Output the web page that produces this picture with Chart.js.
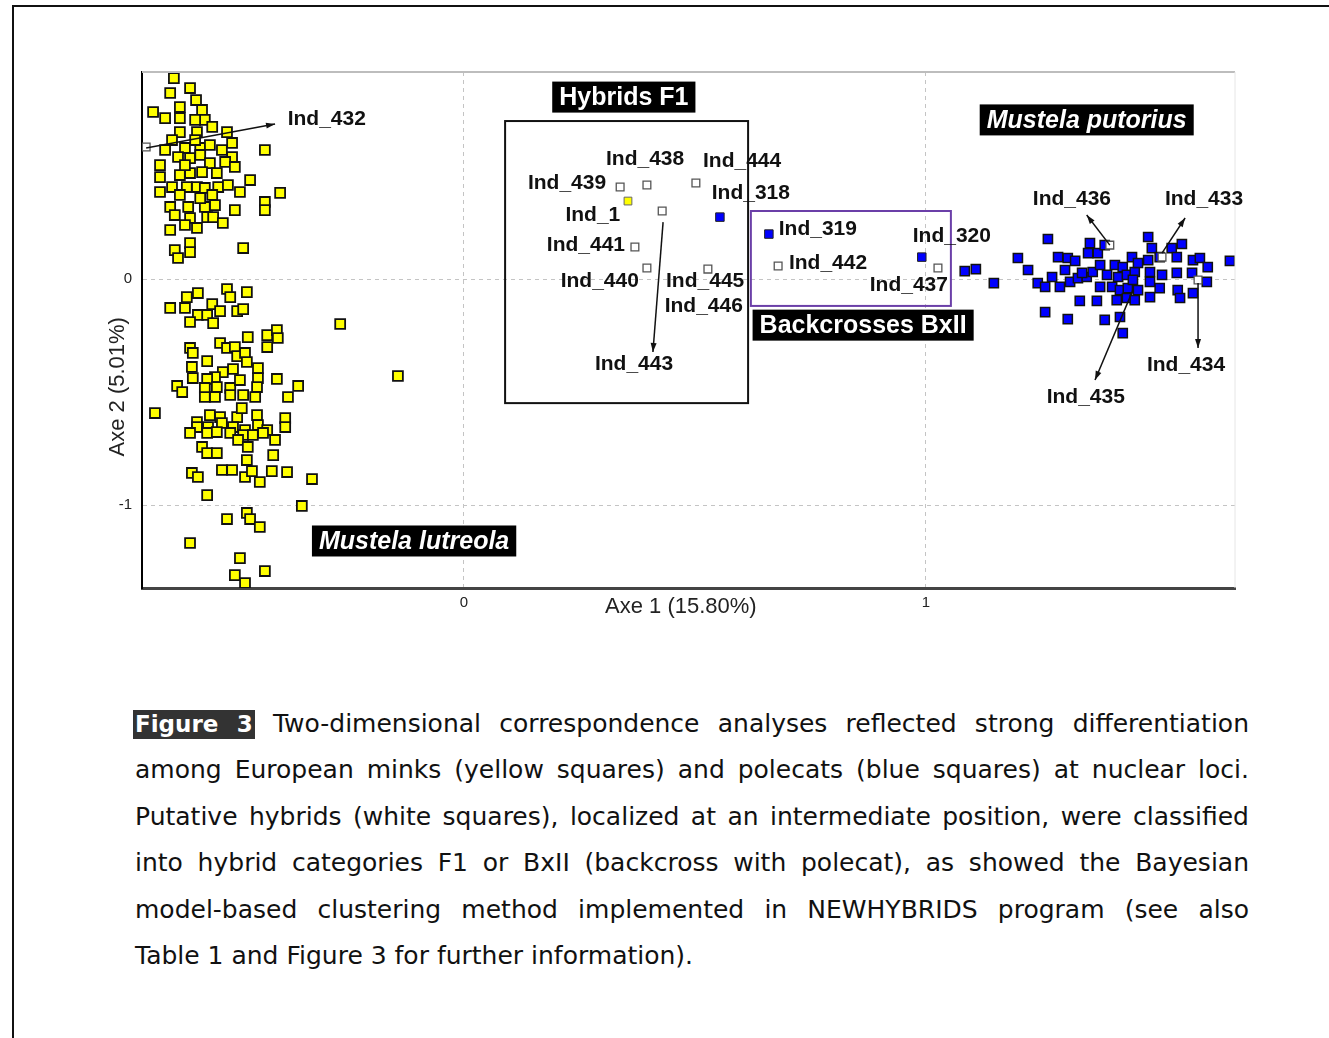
<!DOCTYPE html>
<html>
<head>
<meta charset="utf-8">
<script src="https://cdn.jsdelivr.net/npm/chart.js@4.4.0/dist/chart.umd.min.js"></script>
<style>
  html, body { margin: 0; padding: 0; background: #fff; }
  body { width: 1329px; height: 1038px; position: relative; overflow: hidden; }
  .frame { position: absolute; left: 12px; top: 5px; right: -10px; bottom: -10px; border-top: 2px solid #111; border-left: 2px solid #111; }
  #afc { position: absolute; left: 0; top: 0; }
  .caption { position: absolute; left: 135px; top: 701px; width: 1114px; font-family: "DejaVu Sans", Verdana, sans-serif; font-size: 25px; line-height: 46.4px; color: #111; }
  .caption div { text-align: justify; text-align-last: justify; white-space: nowrap; }
  .caption div.last { text-align-last: left; }
  .caption .fig { background: #333; color: #fff; font-weight: bold; font-size: 23px; padding: 1px 2px 2px 2px; margin-left: -2px; }
</style>
</head>
<body>
<div class="frame"></div>
<canvas id="afc" width="1329" height="640"></canvas>
<div class="caption">
  <div><span class="fig">Figure 3</span> Two-dimensional correspondence analyses reflected strong differentiation</div>
  <div>among European minks (yellow squares) and polecats (blue squares) at nuclear loci.</div>
  <div>Putative hybrids (white squares), localized at an intermediate position, were classified</div>
  <div>into hybrid categories F1 or BxII (backcross with polecat), as showed the Bayesian</div>
  <div>model-based clustering method implemented in NEWHYBRIDS program (see also</div>
  <div class="last">Table 1 and Figure 3 for further information).</div>
</div>
<script>
// axes
const X_TICKS = [0, 1]
const Y_TICKS = [0, -1]
const X_TITLE = "Axe 1 (15.80%)"
const Y_TITLE = "Axe 2 (5.01%)"

// European mink (Mustela lutreola) - yellow
const minkPoints = [
  [-0.628,0.889],[-0.593,0.845],[-0.636,0.823],[-0.580,0.792],[-0.673,0.739],[-0.647,0.712],
  [-0.615,0.761],[-0.615,0.712],[-0.567,0.748],[-0.561,0.704],[-0.545,0.673],[-0.615,0.650],
  [-0.578,0.650],[-0.513,0.650],[-0.632,0.615],[-0.502,0.602],[-0.431,0.571],[-0.604,0.580],
  [-0.571,0.580],[-0.619,0.540],[-0.593,0.535],[-0.571,0.549],[-0.502,0.540],[-0.658,0.504],
  [-0.550,0.513],[-0.517,0.518],[-0.496,0.496],[-0.658,0.451],[-0.615,0.460],[-0.593,0.469],
  [-0.567,0.473],[-0.535,0.469],[-0.632,0.407],[-0.600,0.407],[-0.578,0.407],[-0.561,0.403],
  [-0.532,0.407],[-0.511,0.416],[-0.658,0.385],[-0.615,0.372],[-0.545,0.372],[-0.485,0.385],
  [-0.398,0.381],[-0.431,0.341],[-0.431,0.305],[-0.636,0.319],[-0.597,0.319],[-0.561,0.319],
  [-0.496,0.305],[-0.626,0.283],[-0.593,0.270],[-0.556,0.274],[-0.543,0.274],[-0.522,0.248],
  [-0.604,0.239],[-0.578,0.226],[-0.593,0.159],[-0.626,0.128],[-0.593,0.119],[-0.619,0.093],
  [-0.478,0.137],[-0.582,0.615],[-0.550,0.593],[-0.604,0.504],[-0.524,0.571],[-0.571,0.358],
  [-0.539,0.327],[-0.582,0.704],[-0.647,0.571],[-0.463,0.438],[-0.636,0.217],
  [-0.576,-0.062],[-0.513,-0.044],[-0.506,-0.080],[-0.470,-0.058],[-0.600,-0.080],[-0.636,-0.128],
  [-0.604,-0.128],[-0.576,-0.159],[-0.545,-0.111],[-0.528,-0.142],[-0.556,-0.159],[-0.491,-0.142],
  [-0.478,-0.133],[-0.593,-0.190],[-0.543,-0.195],[-0.268,-0.199],[-0.468,-0.257],[-0.426,-0.248],
  [-0.405,-0.226],[-0.403,-0.261],[-0.426,-0.301],[-0.593,-0.305],[-0.587,-0.327],[-0.528,-0.283],
  [-0.513,-0.305],[-0.496,-0.301],[-0.491,-0.341],[-0.474,-0.327],[-0.556,-0.363],[-0.589,-0.389],
  [-0.470,-0.367],[-0.446,-0.394],[-0.522,-0.412],[-0.500,-0.398],[-0.587,-0.438],[-0.539,-0.434],
  [-0.446,-0.438],[-0.405,-0.442],[-0.556,-0.442],[-0.143,-0.429],[-0.621,-0.473],[-0.610,-0.500],
  [-0.561,-0.482],[-0.535,-0.478],[-0.506,-0.482],[-0.485,-0.447],[-0.448,-0.478],[-0.359,-0.473],
  [-0.381,-0.522],[-0.561,-0.522],[-0.539,-0.522],[-0.506,-0.513],[-0.478,-0.513],[-0.452,-0.522],
  [-0.669,-0.593],[-0.578,-0.633],[-0.550,-0.602],[-0.528,-0.611],[-0.491,-0.611],[-0.481,-0.571],
  [-0.448,-0.602],[-0.387,-0.615],[-0.387,-0.655],[-0.578,-0.655],[-0.554,-0.655],[-0.524,-0.637],
  [-0.500,-0.655],[-0.474,-0.668],[-0.446,-0.646],[-0.426,-0.668],[-0.593,-0.681],[-0.556,-0.681],
  [-0.535,-0.677],[-0.506,-0.681],[-0.478,-0.690],[-0.457,-0.690],[-0.435,-0.681],[-0.409,-0.712],
  [-0.489,-0.712],[-0.567,-0.743],[-0.556,-0.770],[-0.535,-0.770],[-0.468,-0.743],[-0.470,-0.801],
  [-0.413,-0.779],[-0.589,-0.858],[-0.576,-0.876],[-0.524,-0.845],[-0.502,-0.845],[-0.474,-0.876],
  [-0.459,-0.850],[-0.442,-0.898],[-0.416,-0.850],[-0.383,-0.854],[-0.329,-0.885],[-0.556,-0.956],
  [-0.351,-1.004],[-0.513,-1.062],[-0.470,-1.035],[-0.463,-1.062],[-0.442,-1.097],[-0.593,-1.168],
  [-0.485,-1.235],[-0.431,-1.292],[-0.496,-1.310],[-0.474,-1.345]
]

// polecat (Mustela putorius) - blue
const polecatPoints = [
  [1.264,0.177],[1.199,0.093],[1.221,0.040],[1.286,0.097],[1.307,0.093],[1.323,0.080],
  [1.355,0.159],[1.372,0.115],[1.351,0.115],[1.242,-0.018],[1.258,-0.035],[1.273,0.009],
  [1.290,-0.035],[1.312,-0.013],[1.329,0.004],[1.348,0.009],[1.338,0.027],[1.361,0.031],
  [1.377,-0.035],[1.333,-0.097],[1.370,-0.097],[1.258,-0.146],[1.307,-0.177],[1.387,-0.181],
  [1.420,-0.168],[1.426,-0.239],[1.409,0.062],[1.426,0.053],[1.446,0.097],[1.416,0.009],
  [1.435,0.018],[1.452,0.031],[1.403,-0.035],[1.420,-0.049],[1.437,-0.040],[1.459,-0.049],
  [1.413,-0.093],[1.435,-0.084],[1.452,-0.093],[1.481,0.186],[1.489,0.137],[1.481,0.084],
  [1.506,0.097],[1.532,0.137],[1.554,0.155],[1.543,0.097],[1.485,0.031],[1.511,0.018],
  [1.543,0.027],[1.485,-0.013],[1.506,-0.040],[1.485,-0.080],[1.545,-0.049],[1.550,-0.084],
  [1.578,0.084],[1.593,0.093],[1.610,0.053],[1.576,0.027],[1.608,-0.013],[1.578,-0.062],
  [1.658,0.080],[1.147,-0.018],[1.448,-0.004],[1.392,0.018],[1.459,0.071],[1.084,0.035],
  [1.108,0.044],[1.377,0.062],[1.387,0.150],[1.301,0.040]
]

// hybrids with a polecat-like / mink-like score (Ind_318, Ind_319, Ind_320 / Ind_1)
const hybridBluePoints = [[0.554,0.274],[0.660,0.199],[0.991,0.097]]
const hybridYellowPoints = [[0.355,0.345]]

// putative hybrids - white
const hybridPoints = [
  [-0.688,0.584],[0.338,0.407],[0.396,0.416],[0.502,0.425],[0.429,0.301],[0.370,0.142],
  [0.396,0.049],[0.528,0.044],[0.680,0.058],[1.026,0.049],[1.398,0.150],[1.511,0.097],[1.589,-0.004]
]

// individual labels
const labelNames = ["Ind_432","Ind_438","Ind_444","Ind_439","Ind_318","Ind_1","Ind_441","Ind_440","Ind_445","Ind_446","Ind_443","Ind_319","Ind_442","Ind_320","Ind_437","Ind_436","Ind_433","Ind_434","Ind_435"]
const labelX = [-0.297,0.392,0.602,0.223,0.621,0.279,0.264,0.294,0.522,0.519,0.368,0.766,0.788,1.056,0.963,1.316,1.602,1.563,1.346]
const labelY = [0.708,0.531,0.522,0.425,0.381,0.283,0.150,-0.009,-0.009,-0.119,-0.376,0.221,0.071,0.190,-0.027,0.354,0.354,-0.381,-0.522]

// arrows from point to label [x0, y0, x1, y1]
const arrows = [
  [-0.688,0.580,-0.409,0.686],
  [0.431,0.252,0.409,-0.323],
  [1.398,0.150,1.348,0.283],
  [1.511,0.115,1.561,0.270],
  [1.589,-0.018,1.589,-0.305],
  [1.448,-0.049,1.366,-0.447]
]

// group frames [xmin, ymax, xmax, ymin]
const f1Frame = [0.089, 0.699, 0.615, -0.549]
const bxFrame = [0.621, 0.301, 1.054, -0.119]

// group tags
const tagNames = ["Hybrids F1", "Mustela putorius", "Backcrosses BxII", "Mustela lutreola"]
const tagX = [0.346, 1.348, 0.864, -0.108]
const tagY = [0.805, 0.704, -0.204, -1.159]
const tagItalic = [false, true, false, true]

const toXY = arr => arr.map(p => ({ x: p[0], y: p[1] }))

const overlay = {
  id: 'overlay',
  afterDatasetsDraw(chart) {
    const { ctx, chartArea: a, scales: { x, y } } = chart
    ctx.save()
    // plot frame (top / right)
    ctx.strokeStyle = '#bdbdbd'
    ctx.lineWidth = 2
    ctx.beginPath(); ctx.moveTo(a.left, a.top); ctx.lineTo(a.right, a.top); ctx.stroke()
    ctx.strokeStyle = '#e6e6e6'
    ctx.lineWidth = 1
    ctx.beginPath(); ctx.moveTo(a.right, a.top); ctx.lineTo(a.right, a.bottom); ctx.stroke()

    // group frames
    const frame = (f, col) => {
      const x0 = x.getPixelForValue(f[0]), y0 = y.getPixelForValue(f[1])
      const x1 = x.getPixelForValue(f[2]), y1 = y.getPixelForValue(f[3])
      ctx.strokeStyle = col
      ctx.lineWidth = 2
      ctx.strokeRect(x0, y0, x1 - x0, y1 - y0)
    }
    frame(f1Frame, '#111')
    frame(bxFrame, '#6b3fa8')

    // arrows
    ctx.strokeStyle = '#111'
    ctx.fillStyle = '#111'
    ctx.lineWidth = 1.5
    arrows.forEach(r => {
      const x0 = x.getPixelForValue(r[0]), y0 = y.getPixelForValue(r[1])
      const x1 = x.getPixelForValue(r[2]), y1 = y.getPixelForValue(r[3])
      ctx.beginPath(); ctx.moveTo(x0, y0); ctx.lineTo(x1, y1); ctx.stroke()
      const ang = Math.atan2(y1 - y0, x1 - x0)
      ctx.beginPath()
      ctx.moveTo(x1, y1)
      ctx.lineTo(x1 - 9 * Math.cos(ang) + 3 * Math.sin(ang), y1 - 9 * Math.sin(ang) - 3 * Math.cos(ang))
      ctx.lineTo(x1 - 9 * Math.cos(ang) - 3 * Math.sin(ang), y1 - 9 * Math.sin(ang) + 3 * Math.cos(ang))
      ctx.closePath(); ctx.fill()
    })

    // individual labels
    ctx.font = 'bold 21px "Liberation Sans", Arial, sans-serif'
    ctx.fillStyle = '#111'
    ctx.textAlign = 'center'
    ctx.textBaseline = 'middle'
    labelNames.forEach((n, i) => {
      ctx.fillText(n, x.getPixelForValue(labelX[i]), y.getPixelForValue(labelY[i]))
    })

    // group tags (white on black)
    tagNames.forEach((n, i) => {
      ctx.font = (tagItalic[i] ? 'italic ' : '') + 'bold 25px "Liberation Sans", Arial, sans-serif'
      const w = ctx.measureText(n).width + 14
      const h = 31
      const cx = x.getPixelForValue(tagX[i]), cy = y.getPixelForValue(tagY[i])
      ctx.fillStyle = '#000'
      ctx.fillRect(cx - w / 2, cy - h / 2, w, h)
      ctx.fillStyle = '#fff'
      ctx.fillText(n, cx, cy + 1)
    })
    ctx.restore()
  },
  afterDraw(chart) {
    const { ctx, chartArea: a } = chart
    ctx.save()
    ctx.font = '22px "Liberation Sans", Arial, sans-serif'
    ctx.fillStyle = '#222'
    ctx.textAlign = 'center'
    ctx.textBaseline = 'middle'
    ctx.fillText(X_TITLE, a.left + (a.right - a.left) * 0.493, a.bottom + 19)
    ctx.translate(a.left - 24, a.top + (a.bottom - a.top) * 0.61)
    ctx.rotate(-Math.PI / 2)
    ctx.fillText(Y_TITLE, 0, 0)
    ctx.restore()
  }
}

const ctx = document.getElementById('afc').getContext('2d')
new Chart(ctx, {
  type: 'scatter',
  data: {
    datasets: [
      { label: 'hybrids', data: toXY(hybridPoints), backgroundColor: '#ffffff', borderColor: '#555', borderWidth: 1.3, pointStyle: 'rect', pointRadius: 5.5 },
      { label: 'hybrid mink', data: toXY(hybridYellowPoints), backgroundColor: '#ffff00', borderColor: '#666', borderWidth: 1, pointStyle: 'rect', pointRadius: 5.5 },
      { label: 'hybrid polecat', data: toXY(hybridBluePoints), backgroundColor: '#0000ff', borderColor: '#222', borderWidth: 1, pointStyle: 'rect', pointRadius: 6 },
      { label: 'polecat', data: toXY(polecatPoints), backgroundColor: '#0000ff', borderColor: '#111', borderWidth: 1.5, pointStyle: 'rect', pointRadius: 6.5 },
      { label: 'mink', data: toXY(minkPoints), backgroundColor: '#ffff00', borderColor: '#111', borderWidth: 1.8, pointStyle: 'rect', pointRadius: 7 }
    ]
  },
  options: {
    responsive: false,
    animation: false,
    layout: { padding: { top: 72, right: 94, left: 0, bottom: 0 } },
    plugins: { legend: { display: false }, tooltip: { enabled: false } },
    scales: {
      x: {
        type: 'linear', min: -0.697, max: 1.669,
        afterBuildTicks: s => { s.ticks = X_TICKS.map(v => ({ value: v })) },
        afterFit: s => { s.height = 52 },
        grid: { color: '#c4c4c4', drawTicks: false, lineWidth: 1 },
        border: { display: true, color: '#444', width: 3, dash: [4, 4] },
        ticks: { color: '#222', font: { family: '"Liberation Sans", Arial', size: 15 }, padding: 6 }
      },
      y: {
        type: 'linear', min: -1.367, max: 0.916,
        afterBuildTicks: s => { s.ticks = Y_TICKS.map(v => ({ value: v })) },
        afterFit: s => { s.width = 142 },
        grid: { color: '#c4c4c4', drawTicks: false, lineWidth: 1 },
        border: { display: true, color: '#000', width: 2, dash: [4, 4] },
        ticks: { color: '#222', font: { family: '"Liberation Sans", Arial', size: 15 }, padding: 10 }
      }
    }
  },
  plugins: [overlay]
})
</script>
</body>
</html>
